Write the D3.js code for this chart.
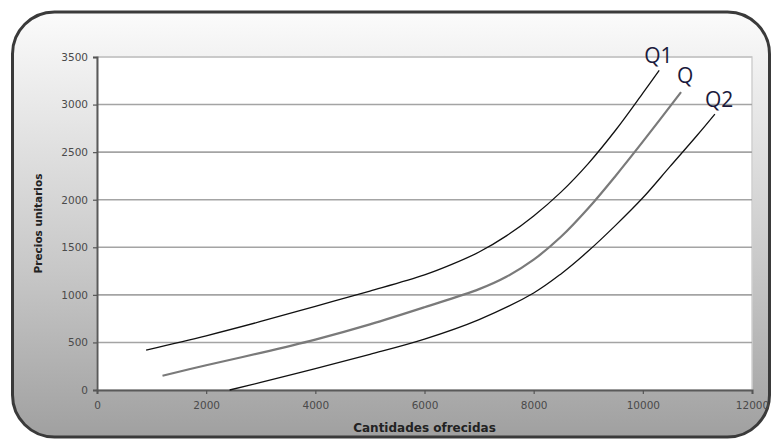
<!DOCTYPE html>
<html>
<head>
<meta charset="utf-8">
<script src="https://cdn.jsdelivr.net/npm/d3@7"></script>
<style>
  html, body { margin: 0; padding: 0; background: #ffffff; }
  svg { display: block; }
</style>
</head>
<body>
<svg id="chart" width="774" height="442"></svg>
<script>
// ---- data ----
const xTicks = [0, 2000, 4000, 6000, 8000, 10000, 12000];
const yTicks = [0, 500, 1000, 1500, 2000, 2500, 3000, 3500];
const seriesNames = ["Q1", "Q", "Q2"];
const q1X = [900, 2000, 3000, 4000, 5000, 6000, 6500, 7000, 7500, 8000, 8500, 9000, 9500, 10000, 10300];
const q1Y = [420, 570, 720, 880, 1040, 1210, 1320, 1450, 1620, 1830, 2080, 2380, 2730, 3120, 3360];
const qX  = [1200, 2000, 3000, 4000, 5000, 6000, 7000, 7500, 8000, 8500, 9000, 9500, 10000, 10700];
const qY  = [150, 260, 390, 530, 690, 870, 1060, 1190, 1370, 1610, 1910, 2250, 2610, 3130];
const q2X = [2430, 3000, 4000, 5000, 6000, 7000, 8000, 8500, 9000, 9500, 10000, 10500, 11000, 11320];
const q2Y = [0, 80, 225, 375, 535, 740, 1020, 1220, 1460, 1730, 2020, 2350, 2680, 2900];
const xTitle = "Cantidades ofrecidas";
const yTitle = "Precios unitarios";

const svg = d3.select("#chart");
const plot = { left: 97, right: 752, top: 57, bottom: 390 };

const x = d3.scaleLinear().domain([0, 12000]).range([plot.left, plot.right]);
const y = d3.scaleLinear().domain([0, 3500]).range([plot.bottom, plot.top]);

// background gradient
const defs = svg.append("defs");
const grad = defs.append("linearGradient").attr("id", "bg").attr("x1", 0).attr("y1", 0).attr("x2", 0).attr("y2", 1);
grad.append("stop").attr("offset", "0%").attr("stop-color", "#fbfbfb");
grad.append("stop").attr("offset", "25%").attr("stop-color", "#e6e6e6");
grad.append("stop").attr("offset", "60%").attr("stop-color", "#c8c8c8");
grad.append("stop").attr("offset", "100%").attr("stop-color", "#a0a0a0");

svg.append("rect")
  .attr("x", 12.5).attr("y", 12).attr("width", 757).attr("height", 425)
  .attr("rx", 42).attr("ry", 42)
  .attr("fill", "url(#bg)")
  .attr("stroke", "#3a3a3a").attr("stroke-width", 3);

// plot area
svg.append("rect")
  .attr("x", plot.left).attr("y", plot.top)
  .attr("width", plot.right - plot.left).attr("height", plot.bottom - plot.top)
  .attr("fill", "#ffffff")
  .attr("stroke", "#d0d0d0").attr("stroke-width", 1.5);

// gridlines
svg.append("g").selectAll("line")
  .data(yTicks.filter(d => d > 0))
  .join("line")
  .attr("x1", plot.left).attr("x2", plot.right)
  .attr("y1", d => y(d)).attr("y2", d => y(d))
  .attr("stroke", d => d === 3500 ? "#c4c4c4" : "#a4a4a4")
  .attr("stroke-width", 1.6);

// axes
const yAxis = svg.append("g")
  .attr("transform", `translate(${plot.left},0)`)
  .call(d3.axisLeft(y).tickValues(yTicks).tickSize(4).tickPadding(5).tickFormat(d3.format("d")));
const xAxis = svg.append("g")
  .attr("transform", `translate(0,${plot.bottom})`)
  .call(d3.axisBottom(x).tickValues(xTicks).tickSize(4).tickPadding(8).tickFormat(d3.format("d")));

[yAxis, xAxis].forEach(g => {
  g.selectAll("text")
    .attr("fill", "#4a4a4a")
    .style("font-family", "'DejaVu Sans', sans-serif")
    .style("font-size", "10.5px");
  g.selectAll(".tick line").attr("stroke", "#555").attr("stroke-width", 1.2);
  g.select(".domain").attr("stroke", "#5a5a5a").attr("stroke-width", 2);
});

// axis titles
svg.append("text")
  .attr("x", (plot.left + plot.right) / 2).attr("y", 432)
  .attr("text-anchor", "middle")
  .attr("fill", "#222")
  .style("font-family", "'DejaVu Sans', sans-serif")
  .style("font-weight", "bold")
  .style("font-size", "12px")
  .text(xTitle);

svg.append("text")
  .attr("transform", `translate(42,${(plot.top + plot.bottom) / 2}) rotate(-90)`)
  .attr("text-anchor", "middle")
  .attr("fill", "#222")
  .style("font-family", "'DejaVu Sans', sans-serif")
  .style("font-weight", "bold")
  .style("font-size", "10.5px")
  .text(yTitle);

// curves
const line = d3.line().x(d => x(d[0])).y(d => y(d[1])).curve(d3.curveCatmullRom.alpha(0.5));
const series = [
  { name: seriesNames[0], pts: d3.zip(q1X, q1Y), color: "#111", width: 1.3 },
  { name: seriesNames[1], pts: d3.zip(qX, qY), color: "#7a7a7a", width: 2.2 },
  { name: seriesNames[2], pts: d3.zip(q2X, q2Y), color: "#111", width: 1.3 }
];
svg.append("g").selectAll("path")
  .data(series)
  .join("path")
  .attr("d", d => line(d.pts))
  .attr("fill", "none")
  .attr("stroke", d => d.color)
  .attr("stroke-width", d => d.width);

// labels at curve ends
const labelOffsets = { "Q1": [-15, -7], "Q": [-4, -9], "Q2": [-10, -7] };
svg.append("g").selectAll("text")
  .data(series)
  .join("text")
  .attr("x", d => x(d.pts[d.pts.length - 1][0]) + labelOffsets[d.name][0])
  .attr("y", d => y(d.pts[d.pts.length - 1][1]) + labelOffsets[d.name][1])
  .attr("fill", "#1a1a3c")
  .style("font-family", "'Open Sans', sans-serif")
  .style("font-size", "21px")
  .text(d => d.name);
</script>
</body>
</html>
